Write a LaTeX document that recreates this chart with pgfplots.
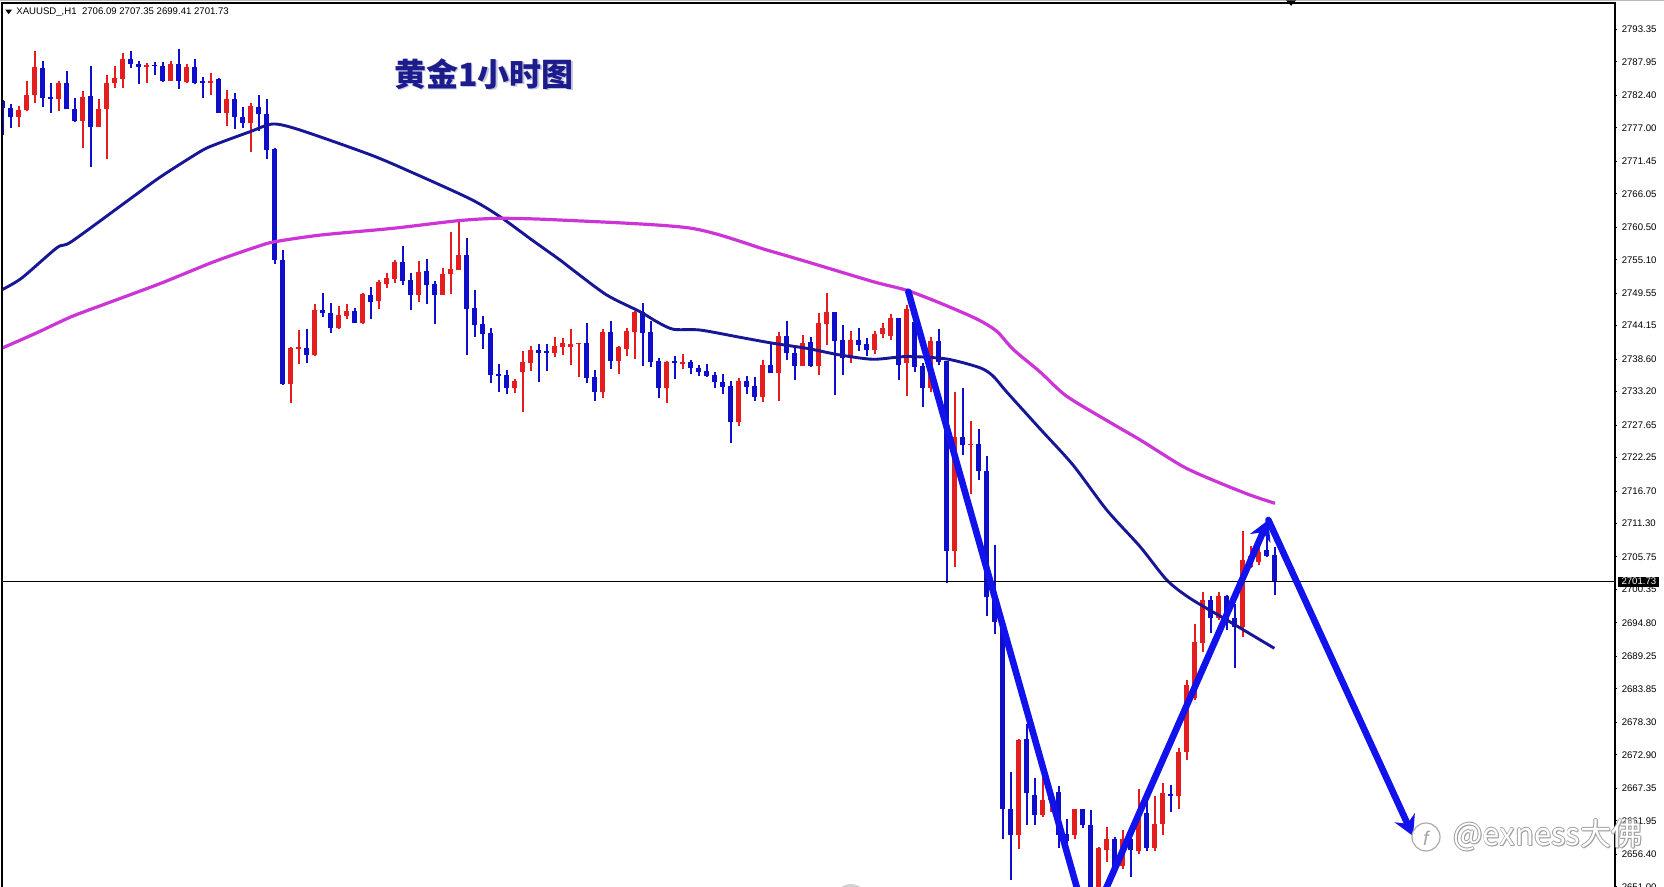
\documentclass[border=0pt]{standalone}
\usepackage{pgfplots}
\pgfplotsset{compat=1.18}
\usepackage{pgfplotstable}
\usepackage{fontspec}
\setmainfont{Liberation Sans}
\newfontfamily\cjk{Noto Sans CJK SC}
\usetikzlibrary{arrows.meta}
\definecolor{cRed}{RGB}{228,30,30}
\definecolor{cBlue}{RGB}{14,14,205}
\definecolor{cNavy}{RGB}{22,22,150}
\definecolor{cMag}{RGB}{204,52,214}
\definecolor{cArrow}{RGB}{18,18,236}
\definecolor{cTitle}{RGB}{28,28,140}

\pgfplotstableread{
i o h l c
2 2778.74 2780.61 2777.08 2779.95
3 2779.95 2784.76 2779.78 2782.44
4 2782.44 2789.79 2781.06 2787.14
7 2781.73 2784.76 2779.78 2784.48
10 2778.17 2783.10 2773.59 2782.06
12 2777.18 2781.73 2777.18 2780.07
13 2780.07 2785.76 2771.77 2784.38
14 2784.38 2787.25 2783.65 2785.31
15 2785.15 2789.46 2783.65 2788.37
18 2787.09 2787.80 2784.48 2787.25
21 2784.76 2788.08 2784.76 2787.54
23 2784.60 2787.54 2784.38 2787.14
26 2784.38 2786.14 2782.44 2784.76
28 2779.50 2783.27 2777.29 2781.73
31 2777.84 2781.06 2773.03 2780.61
36 2734.47 2740.66 2731.26 2740.49
37 2740.33 2743.43 2737.74 2740.49
39 2739.28 2747.75 2739.16 2746.75
42 2743.71 2747.41 2743.55 2745.87
43 2745.80 2747.70 2745.21 2746.58
45 2744.64 2749.52 2744.43 2749.36
47 2748.24 2751.73 2746.87 2751.40
48 2751.07 2752.84 2750.45 2752.01
49 2751.85 2755.05 2751.18 2754.77
52 2749.24 2754.88 2748.13 2753.11
55 2749.24 2753.77 2749.24 2752.68
56 2752.68 2759.65 2749.41 2753.51
57 2753.39 2761.69 2753.39 2755.88
64 2733.75 2735.30 2733.02 2734.96
65 2736.41 2739.99 2729.87 2738.07
66 2737.90 2740.82 2736.62 2740.11
69 2739.56 2742.32 2739.00 2740.82
70 2740.66 2742.05 2739.28 2741.22
71 2740.66 2743.54 2737.62 2741.05
72 2741.05 2741.22 2735.68 2741.16
75 2733.08 2743.60 2732.09 2743.15
77 2738.29 2740.77 2736.13 2740.55
78 2740.22 2743.71 2739.11 2743.27
79 2743.15 2746.58 2738.56 2746.36
83 2733.86 2738.29 2731.37 2738.17
85 2737.84 2739.45 2736.90 2738.06
92 2728.21 2735.52 2727.55 2734.97
95 2732.36 2738.45 2731.53 2737.62
97 2736.24 2743.04 2731.70 2742.43
100 2737.51 2742.60 2737.46 2741.22
102 2737.51 2746.31 2735.96 2744.65
103 2744.43 2749.52 2740.94 2746.47
106 2738.73 2743.32 2738.01 2741.77
109 2740.11 2743.27 2739.45 2742.77
110 2742.71 2744.65 2742.05 2743.71
111 2742.43 2746.03 2741.77 2745.37
113 2738.01 2747.58 2732.53 2746.86
116 2733.86 2742.21 2733.08 2741.66
119 2706.80 2733.10 2704.10 2725.68
121 2724.33 2728.38 2716.24 2724.47
127 2659.58 2675.60 2657.22 2675.43
130 2662.93 2669.01 2662.64 2665.42
131 2665.40 2667.50 2663.50 2666.80
134 2659.60 2664.00 2659.00 2663.90
137 2649.50 2657.60 2648.00 2657.40
138 2657.10 2661.00 2655.20 2658.95
140 2654.50 2660.40 2654.00 2659.00
142 2657.00 2667.30 2656.50 2663.20
144 2657.40 2666.00 2657.00 2661.50
145 2661.40 2668.20 2659.60 2666.50
147 2666.00 2674.00 2664.00 2673.40
148 2673.40 2685.30 2672.00 2684.50
149 2682.30 2694.70 2682.00 2691.70
150 2691.50 2700.00 2690.00 2698.60
152 2695.60 2700.00 2695.30 2699.20
155 2694.20 2710.00 2692.50 2705.30
156 2704.10 2707.50 2703.90 2705.90
157 2705.00 2707.50 2704.40 2706.60
}\tUp

\pgfplotstableread{
i o h l c
0 2781.49 2781.61 2775.80 2780.23
1 2780.23 2780.95 2776.91 2778.74
5 2786.87 2788.08 2780.40 2781.99
6 2782.06 2784.38 2779.40 2781.73
8 2784.38 2786.42 2780.07 2780.07
9 2780.12 2781.99 2778.01 2778.17
11 2782.27 2787.25 2770.54 2777.18
16 2788.37 2789.74 2786.97 2787.54
17 2787.59 2788.08 2784.22 2787.14
19 2787.42 2787.97 2785.76 2787.25
20 2787.25 2787.97 2784.60 2784.76
22 2787.54 2790.03 2783.49 2784.76
24 2787.14 2788.37 2784.22 2784.48
25 2784.65 2785.48 2781.99 2784.48
27 2785.05 2785.21 2779.40 2779.50
29 2781.83 2782.82 2776.75 2778.84
30 2778.84 2780.50 2776.91 2777.84
32 2780.50 2782.44 2776.46 2779.24
33 2779.24 2781.73 2771.77 2773.31
34 2773.48 2773.60 2754.34 2755.05
35 2755.05 2756.71 2734.30 2734.47
38 2740.39 2743.60 2738.00 2739.28
40 2746.75 2749.52 2745.54 2746.20
41 2746.20 2747.86 2742.98 2743.71
44 2746.58 2747.03 2744.64 2744.64
46 2749.24 2750.62 2745.26 2748.13
50 2754.77 2757.42 2750.90 2751.56
51 2751.73 2752.94 2746.75 2749.24
53 2753.22 2755.17 2747.75 2750.90
54 2751.07 2751.56 2744.43 2749.24
58 2755.88 2758.65 2739.28 2746.92
59 2747.13 2750.07 2742.32 2744.26
60 2744.43 2745.80 2740.23 2742.77
61 2742.98 2743.81 2734.68 2735.96
62 2736.08 2737.74 2733.19 2735.84
63 2735.96 2736.79 2732.81 2733.75
67 2740.06 2741.06 2734.85 2739.66
68 2739.83 2741.06 2736.67 2739.66
73 2741.22 2744.65 2734.69 2735.52
74 2735.68 2736.79 2731.70 2733.08
76 2743.15 2744.92 2736.90 2738.29
80 2746.47 2747.97 2737.45 2742.99
81 2743.15 2744.98 2737.34 2738.17
82 2738.29 2738.73 2732.09 2733.86
84 2738.29 2739.11 2735.24 2737.90
86 2738.06 2738.45 2736.07 2737.07
87 2737.18 2737.62 2735.85 2736.40
88 2736.62 2737.73 2735.68 2735.85
89 2735.96 2736.51 2733.86 2734.74
90 2734.74 2736.07 2732.75 2734.02
91 2734.13 2734.97 2724.62 2728.21
93 2734.97 2735.85 2732.75 2734.02
94 2734.13 2735.68 2731.70 2732.36
96 2737.62 2741.05 2736.24 2736.24
98 2742.43 2744.92 2738.45 2739.56
99 2739.67 2740.55 2735.13 2737.51
101 2741.38 2742.32 2737.23 2737.51
104 2746.47 2746.47 2732.64 2741.66
105 2741.77 2744.26 2735.96 2738.73
107 2741.77 2743.71 2739.95 2740.94
108 2741.05 2742.05 2739.11 2740.11
112 2745.37 2745.37 2735.13 2737.62
114 2744.81 2745.75 2736.51 2737.34
115 2737.45 2737.90 2730.59 2733.86
117 2741.66 2743.60 2737.62 2738.17
118 2738.30 2738.30 2701.40 2706.80
120 2725.68 2733.77 2722.65 2724.33
122 2724.47 2727.03 2718.60 2719.95
123 2719.95 2722.45 2696.00 2699.04
124 2699.38 2707.81 2692.97 2694.99
125 2694.99 2695.50 2658.91 2663.97
126 2663.97 2670.04 2652.16 2659.58
128 2675.50 2678.00 2661.30 2666.50
129 2666.20 2669.00 2661.30 2663.00
132 2666.80 2667.80 2657.50 2659.60
133 2659.80 2662.20 2657.50 2658.60
135 2663.90 2664.00 2660.70 2661.30
136 2661.30 2663.80 2648.00 2649.50
139 2658.95 2659.30 2653.00 2654.30
141 2659.00 2660.40 2652.60 2657.10
143 2663.20 2666.00 2657.00 2657.40
146 2666.40 2667.90 2663.50 2666.10
151 2698.60 2699.20 2693.10 2695.60
153 2699.20 2699.50 2693.60 2695.30
154 2695.60 2698.00 2687.30 2694.20
158 2706.90 2709.70 2705.80 2705.90
159 2706.09 2707.35 2699.41 2701.73
}\tDown

\begin{document}
\begin{tikzpicture}
\path[use as bounding box] (0,0) rectangle (832pt,443.5pt);
\begin{axis}[
  at={(1pt,0pt)}, anchor=south west,
  scale only axis, width=806.5pt, height=442pt,
  xmin=-0.1125, xmax=201.51, ymin=2650.97, ymax=2797.716,
  axis line style={draw=none},
  xtick=\empty,
  ytick={2793.35,2787.95,2782.40,2777.00,2771.45,2766.05,2760.50,2755.10,2749.55,2744.15,2738.60,2733.20,2727.65,2722.25,2716.70,2711.30,2705.75,2700.35,2694.80,2689.25,2683.85,2678.30,2672.90,2667.35,2661.95,2656.40,2651.00},
  yticklabels={2793.35,2787.95,2782.40,2777.00,2771.45,2766.05,2760.50,2755.10,2749.55,2744.15,2738.60,2733.20,2727.65,2722.25,2716.70,2711.30,2705.75,2700.35,2694.80,2689.25,2683.85,2678.30,2672.90,2667.35,2661.95,2656.40,2651.00},
  ytick pos=right, yticklabel pos=right,
  tick align=outside, major tick length=1.2pt,
  tick style={black, line width=0.5pt},
  yticklabel style={font=\fontsize{4.8}{5}\selectfont, inner sep=0pt, anchor=west},
  yticklabel shift=2pt,
  clip mode=individual,
]
% wicks
\addplot[cRed, line width=0.6pt, mark=none, quiver={u=0, v=\thisrow{h}-\thisrow{l}}] table[x=i, y=l] \tUp;
\addplot[cBlue, line width=0.6pt, mark=none, quiver={u=0, v=\thisrow{h}-\thisrow{l}}] table[x=i, y=l] \tDown;
% bodies
\addplot[cRed, line width=2.5pt, mark=none, quiver={u=0, v={max(\thisrow{c}-\thisrow{o},0.25)}}] table[x=i, y=o] \tUp;
\addplot[cBlue, line width=2.5pt, mark=none, quiver={u=0, v={max(\thisrow{o}-\thisrow{c},0.25)}}] table[x=i, y=c] \tDown;
% moving averages
\addplot[cNavy, line width=1.45pt, smooth, tension=0.45, mark=none] coordinates {
(-0.36,2749.95) (2.31,2752.01) (6.76,2757.09) (8.56,2758.09) (15.71,2765.01) (19.73,2768.88) (24.64,2773.03) (26.39,2774.14) (30.89,2776.35) (33.76,2777.63) (37.14,2776.63) (46.01,2772.48) (51.39,2769.44) (58.51,2765.13) (62.14,2762.24) (66.14,2758.37) (69.64,2755.05) (71.26,2753.39) (75.48,2749.24) (79.64,2746.47) (81.73,2744.81) (83.8,2743.55) (87.14,2743.43) (92.14,2742.22) (96.3,2741.22) (100.48,2740.39) (104.64,2739.28) (108.8,2738.57) (112.98,2739.03) (117.98,2738.62) (122.14,2737.16) (123.76,2735.80) (125.48,2733.14) (129.64,2727.03) (133.76,2721.02) (137.98,2713.55) (142.14,2707.48) (145.48,2701.93) (148.39,2698.89) (152.98,2695.29) (158.93,2690.59)};
\addplot[cMag, line width=1.6pt, smooth, tension=0.45, mark=none] coordinates {
(-0.36,2740.28) (4.1,2742.88) (8.56,2745.64) (13.01,2747.86) (19.73,2751.18) (26.39,2754.77) (31.76,2757.26) (34.01,2758.09) (39.76,2759.20) (48.74,2760.31) (56.95,2761.58) (62.14,2761.97) (69.64,2761.69) (85.86,2760.36) (95.48,2756.71) (100.48,2754.77) (108.8,2751.45) (112.98,2750.02) (117.14,2747.91) (121.73,2745.26) (124.23,2743.22) (126.3,2740.19) (129.64,2736.48) (132.98,2732.43) (138.9,2727.7) (142.14,2725.2) (147.55,2720.74) (151.73,2718.25) (155.89,2716.04) (159.01,2714.66)};
% current price line
\addplot[black, line width=0.6pt, mark=none] coordinates {(-0.3,2701.73) (201.51,2701.73)};
% hand-drawn arrows
\addplot[cArrow, line width=3.3pt, line cap=round, mark=none] coordinates {(113.18,2749.79) (135.69,2644.08)};
\addplot[cArrow, line width=3.3pt, line cap=round, mark=none, -{Stealth[length=10pt,width=11pt]}] coordinates {(135.69,2644.08) (158.18,2711.89)};
\addplot[cArrow, line width=3.3pt, line cap=round, mark=none, -{Stealth[length=10pt,width=11pt]}] coordinates {(158.18,2711.89) (176.27,2659.43)};
\end{axis}
% frame
\fill[gray!55] (0,442.9pt) rectangle (832pt,443.5pt);
\draw[black, line width=0.6pt] (1pt,-1pt) -- (1pt,442pt) -- (807.5pt,442pt) -- (807.5pt,-1pt);
% chart shift marker
\fill[black] (643pt,443.3pt) -- (648pt,443.3pt) -- (645.5pt,440.6pt) -- cycle;
% header
\fill[black] (2.6pt,438.7pt) -- (6pt,438.7pt) -- (4.3pt,436.4pt) -- cycle;
\node[anchor=west, inner sep=0pt, font=\fontsize{4.8}{5}\selectfont] at (8pt,437.5pt) {XAUUSD\_,H1\ \ 2706.09 2707.35 2699.41 2701.73};
% title
\node[text=cTitle!25, inner sep=0pt, font=\cjk\bfseries\fontsize{16}{16}\selectfont] at (242.7pt,405.8pt) {黄金1小时图};
\node[text=cTitle, inner sep=0pt, font=\cjk\bfseries\fontsize{16}{16}\selectfont] at (242pt,406.5pt) {黄金1小时图};
% current price box
\fill[black] (809.2pt,150.15pt) rectangle (829.7pt,155.15pt);
\node[text=white, inner sep=0pt, font=\fontsize{4.8}{5}\selectfont] at (819.45pt,152.65pt) {2701.73};
% grey arc at bottom
\fill[gray!35] (425.5pt,-6.5pt) circle (8pt);
% watermark
\draw[gray!65, fill=white, line width=0.6pt] (713pt,25pt) circle (7pt);
\node[text=gray!70, inner sep=0pt, font=\fontsize{10}{10}\selectfont\itshape] at (713pt,24.5pt) {f};
\foreach \dx/\dy in {0.35/0,-0.35/0,0/0.35,0/-0.35,0.45/-0.45}{
  \node[text=gray!75, inner sep=0pt, font=\cjk\fontsize{15.5}{16}\selectfont, xshift=\dx pt, yshift=\dy pt] at (774pt,26pt) {@exness大佛};
}
\node[text=white, inner sep=0pt, font=\cjk\fontsize{15.5}{16}\selectfont] at (774pt,26pt) {@exness大佛};
\end{tikzpicture}
\end{document}
